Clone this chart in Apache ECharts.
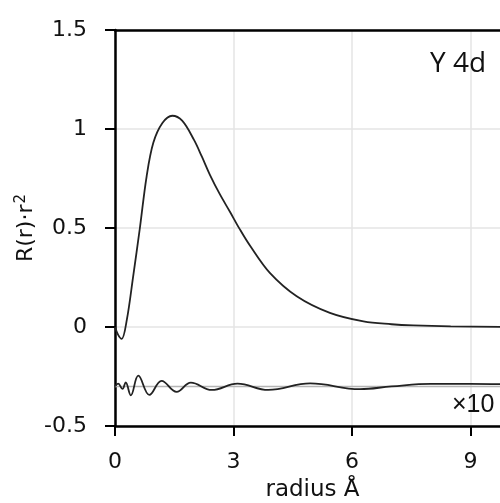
<!DOCTYPE html>
<html>
<head>
<meta charset="utf-8">
<script src="https://cdn.jsdelivr.net/npm/echarts@6/dist/echarts.min.js"></script>
<style>html,body{margin:0;padding:0;background:#fff}#c{width:500px;height:503px}</style>
</head>
<body>
<div id="c"></div>
<script>
// Radial function R(r)·r^2 for Y 4d
var radiusMain = [0, 0.08, 0.17, 0.30, 0.46, 0.63, 0.80, 0.97, 1.2, 1.45, 1.7, 2.0, 2.2, 2.4, 2.65, 2.91, 3.15, 3.42, 3.92, 4.6, 5.44, 6.29, 7.0, 7.55, 8.5, 10];
var valueMain  = [0, -0.04, -0.06, 0.037, 0.256, 0.50, 0.76, 0.93, 1.03, 1.067, 1.042, 0.945, 0.86, 0.77, 0.672, 0.582, 0.497, 0.41, 0.273, 0.155, 0.071, 0.028, 0.014, 0.008, 0.003, 0.0];
// Residual (x10), offset baseline -0.3
var radiusResid = [0, 0.08, 0.19, 0.27, 0.40, 0.59, 0.87, 1.18, 1.56, 1.92, 2.45, 3.1, 3.88, 4.94, 6.2, 7.0, 8.0, 9.0, 10];
var valueResid  = [-0.30, -0.286, -0.313, -0.28, -0.345, -0.246, -0.343, -0.272, -0.328, -0.281, -0.318, -0.286, -0.318, -0.285, -0.314, -0.300, -0.287, -0.287, -0.29];
var residBaseline = -0.3;
var xTicks = [0, 3, 6, 9];
var yTicks = [-0.5, 0, 0.5, 1, 1.5];

function pairs(xs, ys) { return xs.map(function (x, i) { return [x, ys[i]]; }); }

var font = '"DejaVu Sans", sans-serif';
var chart = echarts.init(document.getElementById('c'), null, {renderer: 'canvas'});
chart.setOption({
  animation: false,
  backgroundColor: '#fff',
  grid: {left: 115, top: 30, right: -10, bottom: 77, containLabel: false, outerBoundsMode: 'none'},
  xAxis: [{
    type: 'value', min: 0, max: 10, interval: 3,
    name: 'radius Å', nameLocation: 'middle', nameGap: 53, nameMoveOverlap: false,
    nameTextStyle: {fontFamily: font, fontSize: 23, color: '#111'},
    axisLine: {show: true, onZero: false, lineStyle: {color: '#000', width: 2.5}},
    axisTick: {show: true, length: 10, lineStyle: {color: '#000', width: 2}},
    axisLabel: {fontFamily: font, fontSize: 22, color: '#111', margin: 25, showMaxLabel: false},
    splitLine: {show: true, lineStyle: {color: '#e4e4e4', width: 1.5}}
  }, {
    type: 'value', min: 0, max: 10, position: 'top',
    axisLine: {show: true, onZero: false, lineStyle: {color: '#000', width: 2.5}},
    axisTick: {show: false}, axisLabel: {show: false}, splitLine: {show: false}
  }],
  yAxis: {
    type: 'value', min: -0.5, max: 1.5, interval: 0.5,
    axisLine: {show: true, onZero: false, lineStyle: {color: '#000', width: 2.5}},
    axisTick: {show: true, length: 10, lineStyle: {color: '#000', width: 2}},
    axisLabel: {fontFamily: font, fontSize: 22, color: '#111', margin: 28},
    splitLine: {show: true, lineStyle: {color: '#e4e4e4', width: 1.5}}
  },
  series: [{
    type: 'line', data: pairs(radiusMain, valueMain), smooth: 0.35, showSymbol: false,
    lineStyle: {color: '#222', width: 1.8}, z: 3
  }, {
    type: 'line', data: [[0, residBaseline], [10, residBaseline]], showSymbol: false,
    lineStyle: {color: '#b5b5b5', width: 1.5}, z: 2
  }, {
    type: 'line', data: pairs(radiusResid, valueResid), smooth: 0.4, showSymbol: false,
    lineStyle: {color: '#222', width: 1.8}, z: 3
  }],
  graphic: [{
    type: 'text', x: 26, y: 228, rotation: Math.PI / 2, z: 10,
    style: {
      text: '{a|R(r)·r}{b|2}', align: 'center', verticalAlign: 'middle',
      rich: {
        a: {fontFamily: font, fontSize: 22, fill: '#111'},
        b: {fontFamily: font, fontSize: 15, fill: '#111', verticalAlign: 'top', padding: [0, 0, 10, 1]}
      }
    }
  }, {
    type: 'text', left: 430, top: 50, z: 10,
    style: {text: 'Y 4d', font: '28px "Open Sans", sans-serif', fill: '#111'}
  }, {
    type: 'text', left: 452, top: 393, z: 10,
    style: {text: '×10', font: '25px "Liberation Sans", Arial, sans-serif', fill: '#111'}
  }]
});
</script>
</body>
</html>
